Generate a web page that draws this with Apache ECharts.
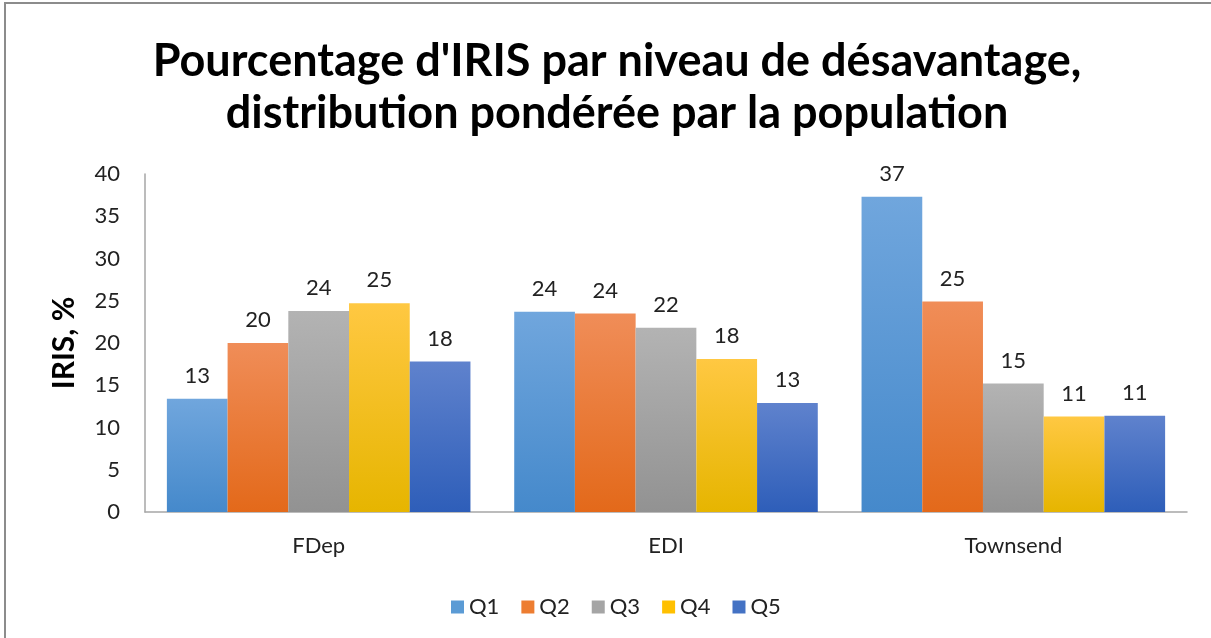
<!DOCTYPE html>
<html lang="fr">
<head>
  <meta charset="UTF-8">
  <title>Pourcentage d'IRIS par niveau de désavantage</title>
  <script src="https://cdn.jsdelivr.net/npm/echarts@6/dist/echarts.min.js"></script>
  <style>
    html, body { margin: 0; padding: 0; background: #fff; }
    #main { width: 1211px; height: 638px; }
  </style>
</head>
<body>
<div id="main"></div>
<script type="text/javascript">
  var categories = ['FDep', 'EDI', 'Townsend'];
  var q1 = [13.4, 23.7, 37.3];
  var q2 = [20.0, 23.5, 24.9];
  var q3 = [23.8, 21.8, 15.2];
  var q4 = [24.7, 18.1, 11.3];
  var q5 = [17.8, 12.9, 11.4];
  var seriesNames = ['Q1', 'Q2', 'Q3', 'Q4', 'Q5'];

  // couleurs facon Excel, haut clair -> bas fonce
  var colors = [
    ['#70a6dd', '#4589cb'],
    ['#f08d58', '#e3691a'],
    ['#b3b3b3', '#929292'],
    ['#ffc842', '#e6b500'],
    ['#5f82cd', '#2e5eb9']
  ];
  var legendColors = ['#5b9bd5', '#ed7d31', '#a5a5a5', '#ffc000', '#4472c4'];

  var font = 'Lato, "Open Sans", sans-serif';
  var chart = echarts.init(document.getElementById('main'));

  var values = [q1, q2, q3, q4, q5];
  var series = seriesNames.map(function (name, i) {
    return {
      name: name,
      type: 'bar',
      barGap: '0%',
      barCategoryGap: '12.6%',
      data: values[i],
      itemStyle: {
        color: new echarts.graphic.LinearGradient(0, 0, 0, 1, [
          { offset: 0, color: colors[i][0] },
          { offset: 1, color: colors[i][1] }
        ])
      },
      label: {
        show: true,
        position: 'top',
        distance: 12,
        color: '#222',
        fontSize: 22,
        fontFamily: font,
        formatter: function (p) { return Math.round(p.value); }
      }
    };
  });

  var option = {
    animation: false,
    title: {
      text: "Pourcentage d'IRIS par niveau de désavantage,\ndistribution pondérée par la population",
      left: 612,
      textAlign: 'center',
      top: 30,
      textStyle: {
        fontFamily: font,
        fontWeight: 'bold',
        fontSize: 45,
        lineHeight: 52,
        color: '#000'
      }
    },
    graphic: [{
      type: 'rect',
      shape: { x: 5, y: 3, width: 1300, height: 700 },
      style: { fill: 'none', stroke: '#8c8c8c', lineWidth: 2 },
      silent: true
    }],
    legend: {
      data: seriesNames.map(function (n, i) {
        return { name: n, itemStyle: { color: legendColors[i] } };
      }),
      left: 446,
      top: 591,
      icon: 'rect',
      itemWidth: 13,
      itemHeight: 13,
      itemGap: 22,
      textStyle: { fontFamily: font, fontSize: 22, color: '#222' }
    },
    grid: { left: 145, right: 24, top: 174, bottom: 126 },
    xAxis: {
      type: 'category',
      data: categories,
      axisLine: { lineStyle: { color: '#a6a6a6', width: 1.5 } },
      axisTick: { show: false },
      axisLabel: { fontFamily: font, fontSize: 22, color: '#222', margin: 23 }
    },
    yAxis: {
      type: 'value',
      min: 0,
      max: 40,
      interval: 5,
      name: 'IRIS, %',
      nameLocation: 'middle',
      nameGap: 66,
      nameTextStyle: { fontFamily: font, fontWeight: 'bold', fontSize: 30, color: '#000' },
      axisLine: { show: true, lineStyle: { color: '#a6a6a6', width: 1.5 } },
      axisTick: { show: false },
      splitLine: { show: false },
      axisLabel: { fontFamily: font, fontSize: 22, color: '#222', margin: 25 }
    },
    series: series
  };

  chart.setOption(option);
</script>
</body>
</html>
